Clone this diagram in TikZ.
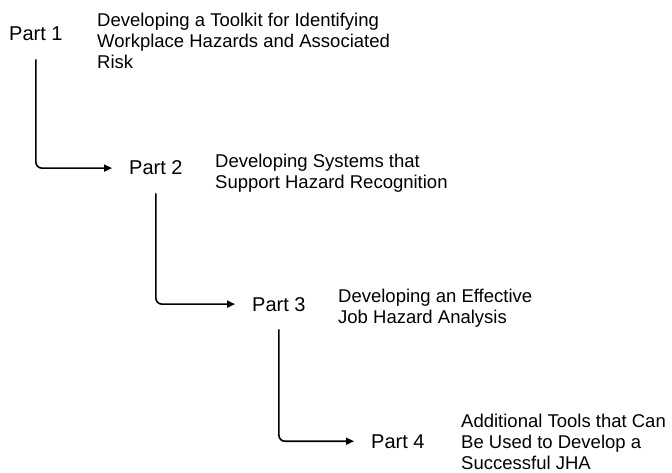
\documentclass[tikz,border=0pt]{standalone}
\usepackage{fontspec}
\setmainfont{Liberation Sans}
\usetikzlibrary{arrows.meta}
\begin{document}
\begin{tikzpicture}[x=1pt,y=-1pt,
  part/.style={anchor=base west, inner sep=0pt, font=\fontsize{20}{22}\selectfont},
  % multi-line titles: the base anchor sits on the last line
  desc/.style={anchor=base west, inner sep=0pt, align=left, font=\fontsize{18.5}{21}\selectfont},
  link/.style={line width=1.6pt, rounded corners=6pt,
    -{Triangle[length=8pt,width=7pt]}, shorten <=18pt, shorten >=17pt}]
\useasboundingbox (0,0) rectangle (672,473);

% the four parts
\node[part] (p1) at (9,41)    {Part 1};
\node[part] (p2) at (129,175) {Part 2};
\node[part] (p3) at (252,311) {Part 3};
\node[part] (p4) at (371,448) {Part 4};

% their titles
\node[desc] (d1) at (97,69)   {Developing a Toolkit for Identifying\\Workplace Hazards and Associated\\Risk};
\node[desc] (d2) at (215,189) {Developing Systems that\\Support Hazard Recognition};
\node[desc] (d3) at (338,323) {Developing an Effective\\Job Hazard Analysis};
\node[desc] (d4) at (461,469) {Additional Tools that Can\\Be Used to Develop a\\Successful JHA};

% elbow arrows from one part to the next
\draw[link] (p1.south) |- (p2.west);
\draw[link] (p2.south) |- (p3.west);
\draw[link] (p3.south) |- (p4.west);
\end{tikzpicture}
\end{document}
